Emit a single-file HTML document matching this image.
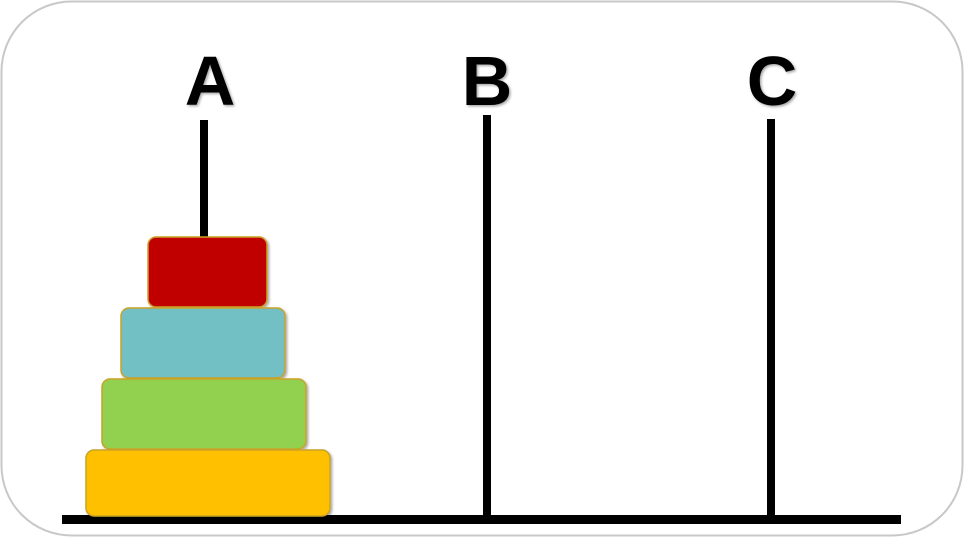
<!DOCTYPE html>
<html><head><meta charset="utf-8"><style>
html,body{margin:0;padding:0;background:#fff;width:964px;height:537px;overflow:hidden}
svg{display:block}
text{font-family:"Liberation Sans",sans-serif;font-weight:bold;font-size:70px;fill:#000}
</style></head><body>
<svg width="964" height="537" viewBox="0 0 964 537">
<defs><filter id="sh" x="-10%" y="-10%" width="130%" height="130%"><feDropShadow dx="1.5" dy="1.5" stdDeviation="1.2" flood-color="#000" flood-opacity="0.35"/></filter></defs>
<rect x="1.5" y="1.5" width="961" height="534" rx="70" fill="#fff" stroke="#c8c8c8" stroke-width="2"/>
<text x="210" y="105" text-anchor="middle" filter="url(#sh)">A</text>
<text x="487" y="105" text-anchor="middle" filter="url(#sh)">B</text>
<text x="772" y="105" text-anchor="middle" filter="url(#sh)">C</text>
<rect x="200" y="120" width="8" height="120" fill="#000"/>
<rect x="483" y="115" width="8" height="405" fill="#000"/>
<rect x="767" y="119" width="8" height="401" fill="#000"/>
<rect x="62" y="515" width="839" height="9" fill="#000"/>
<g stroke="#c9a227" stroke-width="1.5" filter="url(#sh)">
<rect x="86" y="450" width="244" height="66" rx="8" fill="#ffc000"/>
<rect x="102" y="379" width="204" height="70" rx="8" fill="#92d050"/>
<rect x="121" y="308" width="164" height="70" rx="8" fill="#72bfc4"/>
<rect x="148" y="237" width="119" height="70" rx="8" fill="#c00000"/>
</g>
</svg>
</body></html>
